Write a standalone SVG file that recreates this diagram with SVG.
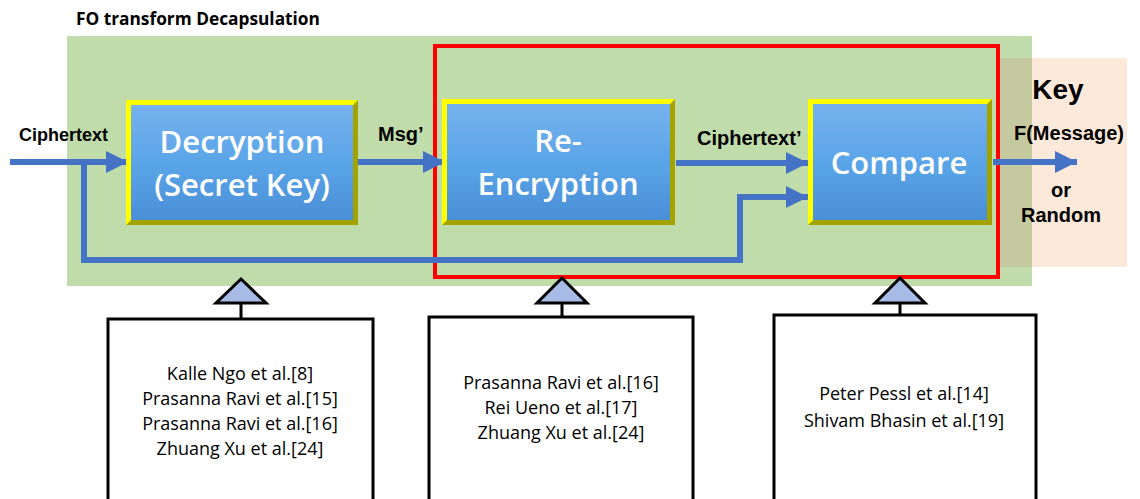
<svg xmlns="http://www.w3.org/2000/svg" width="1140" height="499" viewBox="0 0 1140 499">
<defs>
<linearGradient id="blue" x1="0" y1="0" x2="0" y2="1">
<stop offset="0" stop-color="#77b1ee"/>
<stop offset="0.5" stop-color="#5aa5e8"/>
<stop offset="1" stop-color="#4a8fd8"/>
</linearGradient>
<marker id="ah" viewBox="0 0 22 22" refX="22" refY="11" markerWidth="22" markerHeight="22" orient="auto" markerUnits="userSpaceOnUse">
<path d="M0,0 L22,11 L0,22 z" fill="#4472c4"/>
</marker>
<style>
.lbl{font-family:"Liberation Sans",Arial,sans-serif;font-weight:bold;fill:#000}
.box{font-family:"Open Sans","Noto Sans",sans-serif;fill:#fff;font-size:31px;font-weight:600;text-anchor:middle}
.ref{font-family:"Open Sans","Noto Sans",sans-serif;fill:#000;font-size:18px;text-anchor:middle}
.conn{stroke:#4472c4;stroke-width:6;fill:none}
.tri{fill:#a6bce6;stroke:#000;stroke-width:3;stroke-linejoin:miter}
.rbox{fill:#fff;stroke:#000;stroke-width:3}
</style>
</defs>
<rect width="1140" height="499" fill="#fff"/>
<text x="76" y="25" font-family="Open Sans,sans-serif" font-weight="bold" font-size="17.3" fill="#000">FO transform Decapsulation</text>
<g id="background">
<rect x="67" y="36" width="965" height="250" fill="#c0dcaa"/>
<rect x="1000" y="58" width="127" height="209" fill="#fde9d9"/>
<rect x="1000" y="58" width="32" height="209" fill="#c5c99f"/>
</g>
<g id="focus-frame">
<rect x="435" y="46" width="563" height="231" fill="none" stroke="#ff0000" stroke-width="4"/>
</g>
<g id="connectors">
<path class="conn" d="M10,162 L128,162" marker-end="url(#ah)"/>
<path class="conn" d="M84,162 L84,260 L740,260 L740,197 L808,197" marker-end="url(#ah)"/>
<path class="conn" d="M358,162 L445,162" marker-end="url(#ah)"/>
<path class="conn" d="M676,163 L808,163" marker-end="url(#ah)"/>
<path class="conn" d="M993,162 L1077,162" marker-end="url(#ah)"/>
<path d="M241,319 L241,303 M562,317 L562,303 M900,315 L900,303" stroke="#000" stroke-width="3"/>
</g>
<g id="decryption">
<rect x="126" y="100" width="232" height="125" fill="#ffff00"/>
<polygon points="358,100 358,225 126,225 131,220 353,220 353,105" fill="#a3a300"/>
<rect x="131" y="105" width="222" height="115" fill="url(#blue)"/>
<text class="box" x="242" y="153">Decryption</text>
<text class="box" x="242" y="196">(Secret Key)</text>
</g>
<g id="reencryption">
<rect x="442" y="99" width="233" height="126" fill="#ffff00"/>
<polygon points="675,99 675,225 442,225 447,220 670,220 670,104" fill="#a3a300"/>
<rect x="447" y="104" width="223" height="116" fill="url(#blue)"/>
<text class="box" x="558" y="152">Re-</text>
<text class="box" x="558" y="195">Encryption</text>
</g>
<g id="compare">
<rect x="808" y="99" width="184" height="126" fill="#ffff00"/>
<polygon points="992,99 992,225 808,225 813,220 987,220 987,104" fill="#a3a300"/>
<rect x="813" y="104" width="174" height="116" fill="url(#blue)"/>
<text class="box" x="899" y="174">Compare</text>
</g>
<g id="labels">
<text class="lbl" x="19" y="141" font-size="18">Ciphertext</text>
<text class="lbl" x="378" y="141" font-size="20">Msg’</text>
<text class="lbl" x="697" y="145" font-size="20">Ciphertext’</text>
<text class="lbl" x="1058" y="99" font-size="28" text-anchor="middle">Key</text>
<text class="lbl" x="1069" y="140" font-size="20" text-anchor="middle">F(Message)</text>
<text class="lbl" x="1061" y="197" font-size="20" text-anchor="middle">or</text>
<text class="lbl" x="1061" y="222" font-size="20" text-anchor="middle">Random</text>
</g>
<g id="ref-decryption">
<polygon class="tri" points="241,279 216,303 266,303"/>
<rect class="rbox" x="108" y="319" width="265" height="190"/>
<text class="ref" x="240" y="380">Kalle Ngo et al.[8]</text>
<text class="ref" x="240" y="405">Prasanna Ravi et al.[15]</text>
<text class="ref" x="240" y="430">Prasanna Ravi et al.[16]</text>
<text class="ref" x="240" y="455">Zhuang Xu et al.[24]</text>
</g>
<g id="ref-reencryption">
<polygon class="tri" points="562,278 537,303 587,303"/>
<rect class="rbox" x="429" y="317" width="264" height="192"/>
<text class="ref" x="561" y="389">Prasanna Ravi et al.[16]</text>
<text class="ref" x="561" y="414">Rei Ueno et al.[17]</text>
<text class="ref" x="561" y="439">Zhuang Xu et al.[24]</text>
</g>
<g id="ref-compare">
<polygon class="tri" points="900,278 875,303 925,303"/>
<rect class="rbox" x="774" y="315" width="262" height="194"/>
<text class="ref" x="904" y="400">Peter Pessl et al.[14]</text>
<text class="ref" x="904" y="427">Shivam Bhasin et al.[19]</text>
</g>
</svg>
